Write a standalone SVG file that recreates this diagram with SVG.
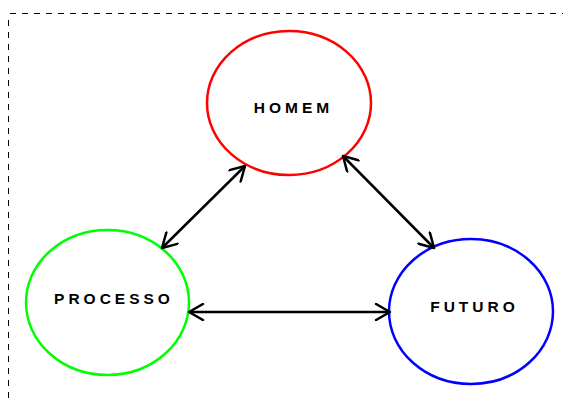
<svg xmlns="http://www.w3.org/2000/svg" width="563" height="400" viewBox="0 0 563 400">
  <style>
    .frame { fill: none; stroke: #000; stroke-width: 1; stroke-dasharray: 6 6; }
    .node { fill: #fff; stroke-width: 2.5; }
    .label { font-family: "Liberation Sans", Arial, sans-serif; font-size: 15.5px; font-weight: bold; letter-spacing: 4px; text-anchor: middle; fill: #000; }
    .link { fill: none; stroke: #000; stroke-width: 2.5; marker-start: url(#chev); marker-end: url(#chev); }
  </style>
  <defs>
    <marker id="chev" viewBox="-16 -9 18 18" refX="0" refY="0" markerWidth="18" markerHeight="18" markerUnits="userSpaceOnUse" orient="auto-start-reverse">
      <path d="M -14 -8 L 0 0 L -14 8" fill="none" stroke="#000" stroke-width="2.5" stroke-linecap="round" stroke-linejoin="round"/>
    </marker>
  </defs>

  <!-- page frame -->
  <path class="frame" d="M 10 13.5 H 563 M 8.5 20 V 400"/>

  <g id="homem">
    <ellipse class="node" cx="289" cy="103" rx="82" ry="72" stroke="#f00"/>
    <text class="label" x="293.5" y="113">HOMEM</text>
  </g>
  <g id="processo">
    <ellipse class="node" cx="107.5" cy="302.5" rx="81.5" ry="72.5" stroke="#0f0"/>
    <text class="label" x="114" y="304">PROCESSO</text>
  </g>
  <g id="futuro">
    <ellipse class="node" cx="471" cy="311.5" rx="82" ry="72.5" stroke="#00f"/>
    <text class="label" x="474.5" y="312">FUTURO</text>
  </g>

  <g id="connectors">
    <line class="link" x1="162" y1="248" x2="245" y2="166"/>
    <line class="link" x1="343" y1="156" x2="434" y2="248"/>
    <line class="link" x1="189" y1="312" x2="390" y2="312"/>
  </g>
</svg>
